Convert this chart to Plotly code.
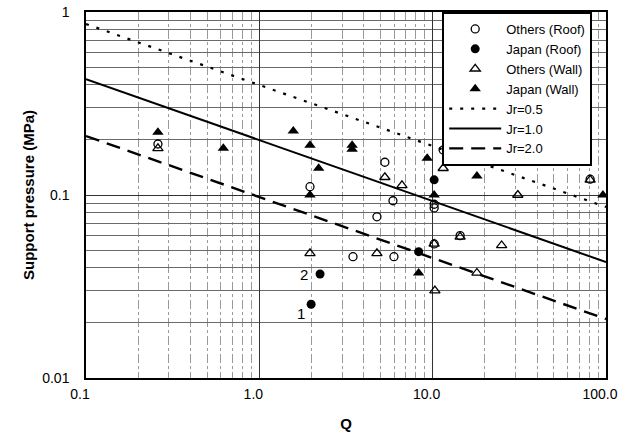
import math
import plotly.graph_objects as go

# ---- data ----
others_roof_q = [0.26, 1.96, 5.3, 5.9, 4.77, 3.47, 5.98, 10.2, 10.2, 11.5, 10.2, 14.4, 81]
others_roof_p = [0.19, 0.111, 0.151, 0.093, 0.076, 0.046, 0.046, 0.089, 0.085, 0.176, 0.054, 0.060, 0.122]

japan_roof_q = [1.99, 2.24, 8.3, 10.2]
japan_roof_p = [0.0253, 0.037, 0.049, 0.121]

others_wall_q = [0.26, 1.96, 4.77, 5.3, 6.65, 11.5, 10.2, 14.4, 10.3, 18, 25, 31, 81]
others_wall_p = [0.18, 0.048, 0.048, 0.125, 0.113, 0.14, 0.054, 0.059, 0.030, 0.0375, 0.053, 0.10, 0.121]

japan_wall_q = [0.26, 0.62, 1.57, 1.96, 2.2, 1.96, 3.43, 3.43, 8.3, 9.3, 10.2, 18, 22.3, 96]
japan_wall_p = [0.22, 0.18, 0.224, 0.187, 0.14, 0.10, 0.187, 0.178, 0.0375, 0.159, 0.10, 0.127, 0.161, 0.10]

line_q = [0.1, 100]
jr05_p = [0.86, 0.086]
jr10_p = [0.43, 0.043]
jr20_p = [0.21, 0.021]

labels = ["1", "2"]
label_q = [1.99, 2.24]
label_p = [0.0253, 0.037]

FONT = "Liberation Sans, Arial, sans-serif"

fig = go.Figure()
fig.add_trace(go.Scatter(x=others_roof_q, y=others_roof_p, mode="markers", name="Others (Roof)",
                         marker=dict(symbol="circle-open", size=8, color="black", line=dict(width=1.3))))
fig.add_trace(go.Scatter(x=japan_roof_q, y=japan_roof_p, mode="markers", name="Japan (Roof)",
                         marker=dict(symbol="circle", size=9, color="black")))
fig.add_trace(go.Scatter(x=others_wall_q, y=others_wall_p, mode="markers", name="Others (Wall)",
                         marker=dict(symbol="triangle-up-open", size=9, color="black", line=dict(width=1.3))))
fig.add_trace(go.Scatter(x=japan_wall_q, y=japan_wall_p, mode="markers", name="Japan (Wall)",
                         marker=dict(symbol="triangle-up", size=10, color="black")))
fig.add_trace(go.Scatter(x=line_q, y=jr05_p, mode="lines", name="Jr=0.5",
                         line=dict(color="black", width=2.2, dash="3px,8px")))
fig.add_trace(go.Scatter(x=line_q, y=jr10_p, mode="lines", name="Jr=1.0",
                         line=dict(color="black", width=2)))
fig.add_trace(go.Scatter(x=line_q, y=jr20_p, mode="lines", name="Jr=2.0",
                         line=dict(color="black", width=2.4, dash="14px,8px")))

ann = []
for t, q, p, dx, dy in zip(labels, label_q, label_p, [-10, -16], [-9, 0]):
    ann.append(dict(x=math.log10(q), y=math.log10(p), xref="x", yref="y", text=t, showarrow=False,
                    xshift=dx, yshift=dy, font=dict(family=FONT, size=15, color="black")))

fig.update_layout(
    width=639, height=439,
    margin=dict(l=86, r=33, t=12, b=61),
    paper_bgcolor="white", plot_bgcolor="white",
    font=dict(family=FONT, size=14, color="black"),
    showlegend=True,
    legend=dict(x=0.685, y=1.0, xanchor="left", yanchor="top",
                bgcolor="white", bordercolor="black", borderwidth=2,
                font=dict(family=FONT, size=13, color="black"),
                tracegroupgap=0, itemwidth=52),
    annotations=ann,
)
fig.update_xaxes(type="log", range=[-1, 2], dtick=1, tickformat=".1f", automargin=False,
                 showline=True, linecolor="black", linewidth=1.5, mirror=True,
                 showgrid=True, gridcolor="#333333", gridwidth=1.2,
                 ticks="", ticklabelstandoff=2, ticklabelshift=-6,
                 minor=dict(dtick="D1", showgrid=True, gridcolor="#9a9a9a", gridwidth=1, griddash="dashdot"),
                 title=dict(text="<b>Q</b>", font=dict(family=FONT, size=15), standoff=18),
                 zeroline=False)
fig.update_yaxes(type="log", range=[-2, 0], dtick=1, automargin=False,
                 showline=True, linecolor="black", linewidth=1.5, mirror=True,
                 showgrid=True, gridcolor="#333333", gridwidth=1.2,
                 ticks="", ticklabelstandoff=12,
                 minor=dict(dtick="D1", showgrid=True, gridcolor="#6a6a6a", gridwidth=1),
                 title=dict(text="<b>Support pressure (MPa)</b>", font=dict(family=FONT, size=15), standoff=4),
                 zeroline=False)

fig.write_html("out.html")
